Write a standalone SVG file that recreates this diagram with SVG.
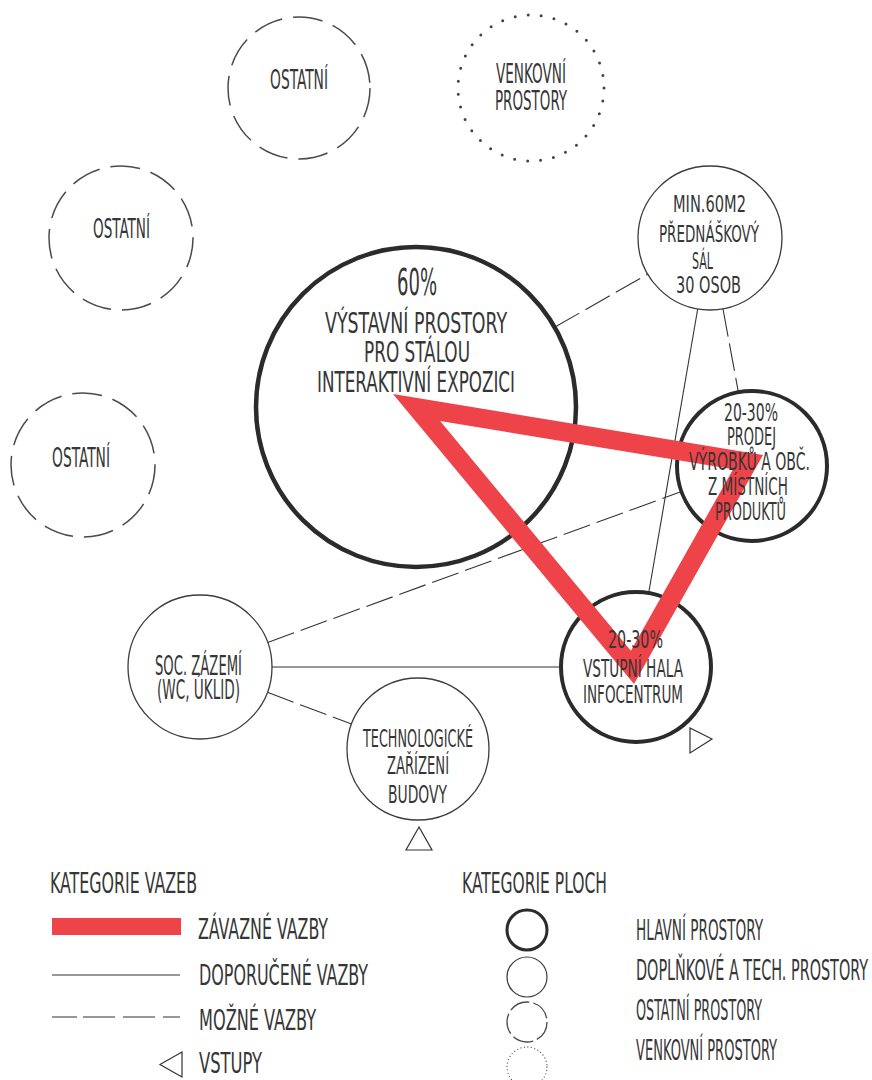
<svg xmlns="http://www.w3.org/2000/svg" width="872" height="1080" viewBox="0 0 872 1080">
<style>
text{font-family:"Liberation Sans Narrow","DejaVu Sans Condensed","Liberation Sans",sans-serif;fill:#363636;}
.t23{font-size:26.5px}.t21{font-size:24px}.t20{font-size:23.5px}.t25{font-size:29px}.t32{font-size:37px}.lg{font-size:28.5px}
.main{fill:none;stroke:#2b2b2b;stroke-width:4.5}
.aux{fill:none;stroke:#3c3c3c;stroke-width:1.3}
.oth{fill:none;stroke:#4a4a4a;stroke-width:1.5;stroke-dasharray:30 11}
.out{fill:none;stroke:#444;stroke-width:3;stroke-linecap:round;stroke-dasharray:0 13.1}
.rec{stroke:#333;stroke-width:1.1;fill:none}
.pos{stroke:#333;stroke-width:1.1;fill:none;stroke-dasharray:28 7}
.red{fill:#ee4349}
.entry{fill:none;stroke:#333;stroke-width:1.2}
</style>

<g id="connectors">
<line class="pos" x1="555" y1="327" x2="648" y2="274"/>
<line class="rec" x1="697.7" y1="309" x2="648.7" y2="593"/>
<line class="pos" x1="723" y1="309" x2="738.4" y2="392.3"/>
<line class="pos" x1="267.7" y1="642.4" x2="681.5" y2="491.6"/>
<line class="rec" x1="272" y1="667" x2="561" y2="667"/>
<line class="pos" x1="267.4" y1="692.3" x2="351.5" y2="724"/>
</g>

<g id="n-ostatni1"><circle class="oth" cx="299" cy="88" r="71"/></g>
<g id="n-ostatni2"><circle class="oth" cx="121" cy="238" r="72"/></g>
<g id="n-ostatni3"><circle class="oth" cx="83" cy="465" r="72"/></g>
<g id="n-venkovni"><circle class="out" cx="531" cy="88" r="73"/></g>
<g id="n-sal"><circle class="aux" cx="710" cy="238" r="72"/></g>
<g id="n-vystavni"><circle class="main" cx="416" cy="407" r="160"/></g>
<g id="n-prodej"><circle class="main" cx="752" cy="466" r="75" style="stroke-width:4"/></g>
<g id="n-hala"><circle class="main" cx="636" cy="667" r="75" style="stroke-width:4"/></g>
<g id="n-soc"><circle class="aux" cx="200" cy="667" r="72"/></g>
<g id="n-tech"><circle class="aux" cx="418" cy="749" r="71"/></g>

<g id="binding">
<path class="red" fill-rule="evenodd" d="M393,394 L763,455 L634,684 Z M440.1,421 L630.9,650.7 L733.1,469.3 Z"/>
</g>

<g id="entries">
<polygon class="entry" points="419,827 406,850 432,850"/>
<polygon class="entry" points="690,728 690,753 712,739"/>
</g>

<g id="labels">
<text class="t23" x="270" y="89" textLength="58" lengthAdjust="spacingAndGlyphs">OSTATNÍ</text>
<text class="t23" x="93" y="238" textLength="57" lengthAdjust="spacingAndGlyphs">OSTATNÍ</text>
<text class="t23" x="52" y="467" textLength="58" lengthAdjust="spacingAndGlyphs">OSTATNÍ</text>
<text class="t23" x="496" y="83" textLength="70" lengthAdjust="spacingAndGlyphs">VENKOVNÍ</text>
<text class="t23" x="495" y="110" textLength="72" lengthAdjust="spacingAndGlyphs">PROSTORY</text>

<text class="t20" x="673" y="212" textLength="73" lengthAdjust="spacingAndGlyphs">MIN.60M2</text>
<text class="t20" x="659" y="242" textLength="100" lengthAdjust="spacingAndGlyphs">PŘEDNÁŠKOVÝ</text>
<text class="t20" x="692" y="269" textLength="21" lengthAdjust="spacingAndGlyphs">SÁL</text>
<text class="t20" x="676" y="293" textLength="65" lengthAdjust="spacingAndGlyphs">30 OSOB</text>

<text class="t32" x="397" y="295" textLength="40" lengthAdjust="spacingAndGlyphs">60%</text>
<text class="t25" x="325" y="333" textLength="182" lengthAdjust="spacingAndGlyphs">VÝSTAVNÍ PROSTORY</text>
<text class="t25" x="364" y="362" textLength="106" lengthAdjust="spacingAndGlyphs">PRO STÁLOU</text>
<text class="t25" x="317" y="392" textLength="198" lengthAdjust="spacingAndGlyphs">INTERAKTIVNÍ EXPOZICI</text>

<text class="t21" x="724" y="421" textLength="54" lengthAdjust="spacingAndGlyphs">20-30%</text>
<text class="t21" x="727" y="445" textLength="49" lengthAdjust="spacingAndGlyphs">PRODEJ</text>
<text class="t21" x="689" y="470" textLength="121" lengthAdjust="spacingAndGlyphs">VÝROBKŮ A OBČ.</text>
<text class="t21" x="708" y="495" textLength="80" lengthAdjust="spacingAndGlyphs">Z MÍSTNÍCH</text>
<text class="t21" x="715" y="520" textLength="71" lengthAdjust="spacingAndGlyphs">PRODUKTŮ</text>

<text class="t21" x="608" y="648" textLength="55" lengthAdjust="spacingAndGlyphs">20-30%</text>
<text class="t21" x="583" y="677" textLength="100" lengthAdjust="spacingAndGlyphs">VSTUPNÍ HALA</text>
<text class="t21" x="583" y="703" textLength="100" lengthAdjust="spacingAndGlyphs">INFOCENTRUM</text>

<text class="t23" x="155" y="675" textLength="87" lengthAdjust="spacingAndGlyphs">SOC. ZÁZEMÍ</text>
<text class="t23" x="157" y="699" textLength="83" lengthAdjust="spacingAndGlyphs">(WC, ÚKLID)</text>

<text class="t21" x="363" y="747" textLength="110" lengthAdjust="spacingAndGlyphs">TECHNOLOGICKÉ</text>
<text class="t21" x="387" y="774" textLength="62" lengthAdjust="spacingAndGlyphs">ZAŘÍZENÍ</text>
<text class="t21" x="388" y="803" textLength="59" lengthAdjust="spacingAndGlyphs">BUDOVY</text>
</g>

<g id="legend-vazby">
<text class="lg" x="50" y="893" textLength="147" lengthAdjust="spacingAndGlyphs">KATEGORIE VAZEB</text>
<rect x="52" y="918" width="129" height="17" fill="#ee4349"/>
<text class="lg" x="198" y="939" textLength="130" lengthAdjust="spacingAndGlyphs">ZÁVAZNÉ VAZBY</text>
<line class="rec" x1="52" y1="975" x2="180" y2="975"/>
<text class="lg" x="199" y="985" textLength="169" lengthAdjust="spacingAndGlyphs">DOPORUČENÉ VAZBY</text>
<line x1="52" y1="1017" x2="180" y2="1017" stroke="#333" stroke-width="1.1" stroke-dasharray="25 6 32 8 32 8"/>
<text class="lg" x="199" y="1030" textLength="117" lengthAdjust="spacingAndGlyphs">MOŽNÉ VAZBY</text>
<polygon class="entry" points="182,1052 182,1077 160,1064.5"/>
<text class="lg" x="199" y="1073" textLength="63" lengthAdjust="spacingAndGlyphs">VSTUPY</text>
</g>

<g id="legend-plochy">
<text class="lg" x="462" y="893" textLength="145" lengthAdjust="spacingAndGlyphs">KATEGORIE PLOCH</text>
<circle cx="527" cy="930" r="20" fill="none" stroke="#2b2b2b" stroke-width="3"/>
<text class="lg" x="636" y="940" textLength="127" lengthAdjust="spacingAndGlyphs">HLAVNÍ  PROSTORY</text>
<circle cx="527" cy="977" r="20" fill="none" stroke="#3c3c3c" stroke-width="1.2"/>
<text class="lg" x="636" y="980" textLength="232" lengthAdjust="spacingAndGlyphs">DOPLŇKOVÉ A TECH. PROSTORY</text>
<circle cx="527" cy="1022" r="20" fill="none" stroke="#4a4a4a" stroke-width="1.3" stroke-dasharray="21 4"/>
<text class="lg" x="636" y="1020" textLength="126" lengthAdjust="spacingAndGlyphs">OSTATNÍ PROSTORY</text>
<circle cx="527" cy="1067" r="20" fill="none" stroke="#555" stroke-width="1.3" stroke-linecap="round" stroke-dasharray="0 3.5"/>
<text class="lg" x="636" y="1060" textLength="141" lengthAdjust="spacingAndGlyphs">VENKOVNÍ PROSTORY</text>
</g>
</svg>
